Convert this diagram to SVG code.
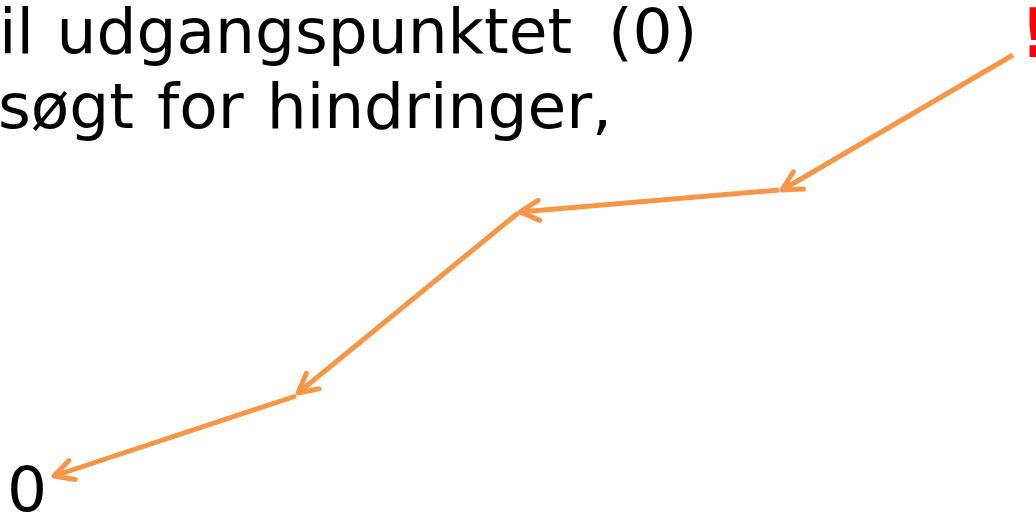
<svg xmlns="http://www.w3.org/2000/svg" width="1036" height="514" viewBox="0 0 1036 514">
<defs>
<style>
.t{font-family:"DejaVu Sans",Verdana,sans-serif;font-size:63px;fill:#000}
.c{fill:none;stroke:#F79646;stroke-width:5;stroke-linecap:butt}
</style>
<marker id="ah" refX="0" refY="0" markerWidth="40" markerHeight="40" markerUnits="userSpaceOnUse" orient="auto" overflow="visible">
<path d="M -19 -10 L 0 0 L -19 10" fill="none" stroke="#F79646" stroke-width="5" stroke-linecap="round" stroke-linejoin="round"/>
</marker>
</defs>
<rect width="1036" height="514" fill="#fff"/>
<g id="text1"><text class="t" y="53"><tspan x="-1">il</tspan><tspan x="56.5">udgangspunktet</tspan><tspan x="608">(0)</tspan></text></g>
<g id="text2"><text class="t" x="-2" y="128" word-spacing="3">søgt for hindringer,</text></g>
<g id="start"><text x="1020" y="57" style="font-family:'DejaVu Sans',Verdana,sans-serif;font-size:68px;font-weight:bold;fill:#FF0000">!</text></g>
<g id="end"><text class="t" x="7" y="511">0</text></g>
<g id="connectors">
<line class="c" x1="1013" y1="55" x2="782" y2="190" marker-end="url(#ah)"/>
<line class="c" x1="779" y1="190" x2="520" y2="212" marker-end="url(#ah)"/>
<line class="c" x1="518" y1="213" x2="298" y2="393" marker-end="url(#ah)"/>
<line class="c" x1="296" y1="396" x2="54" y2="476" marker-end="url(#ah)"/>
</g>
</svg>
